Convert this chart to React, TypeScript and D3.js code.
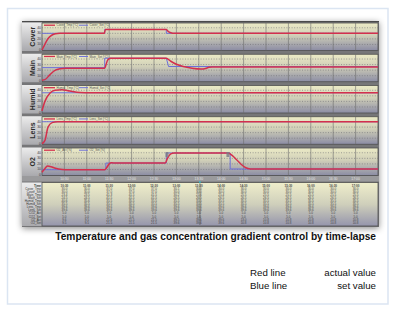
import React from 'react';
import * as d3 from 'd3';

type Pt = [number, number];

// ---------- data ----------
const panelNames = ['Cover', 'Main', 'Humid', 'Lens', 'O2'];
const legendActual = ['Cover_Tmp [°C]', 'Main_Tmp [°C]', 'Humid_Tmp [°C]', 'Lens_Tmp [°C]', 'O2_Act [%]'];
const legendSet = ['Cover_Set [°C]', 'Main_Set [°C]', 'Humid_Set [°C]', 'Lens_Set [°C]', 'O2_Set [%]'];
const yTicks = [0, 10, 20, 30, 40];
const timeLabels = ['10:30', '11:00', '11:30', '12:00', '12:30', '13:00', '13:30', '14:00', '14:30', '15:00', '15:30', '16:00', '16:30', '17:00'];

const coverActual: Pt[] = [[0, 0], [0.1, 8], [0.2, 16], [0.3, 22], [0.45, 27], [0.6, 29.3], [0.8, 30], [2.78, 30], [2.83, 37], [5.55, 37], [5.62, 34], [5.75, 31], [5.9, 30], [15, 30]];
const coverSet: Pt[] = [[0, 30], [2.8, 30], [2.8, 37], [5.55, 37], [5.55, 30], [15, 30]];
const mainActual: Pt[] = [[0, 2], [0.13, 3], [0.36, 12], [0.58, 19.5], [0.8, 22.5], [1.05, 23.5], [2.8, 23.5], [2.86, 30], [2.93, 38], [3.05, 41.5], [5.55, 41.5], [5.75, 36], [6.0, 30.5], [6.3, 26.5], [6.7, 23.5], [7.1, 22], [7.3, 23], [7.45, 25], [7.6, 25.5], [15, 25.5]];
const mainSet: Pt[] = [[0, 24.5], [2.8, 24.5], [2.8, 41.5], [5.55, 41.5], [5.65, 26.5], [15, 26.5]];
const humidActual: Pt[] = [[0, 3], [0.13, 20], [0.36, 35], [0.58, 40], [0.89, 41], [1.25, 38.5], [1.7, 36], [2.2, 35.5], [15, 35.5]];
const humidSet: Pt[] = [[0, 35.5], [15, 35.5]];
const lensActual: Pt[] = [[0, 0], [0.13, 6], [0.27, 30], [0.45, 38], [0.7, 39.6], [15, 39.6]];
const lensSet: Pt[] = [[0, 39.6], [15, 39.6]];
const o2Actual: Pt[] = [[0, 5], [0.1, 10], [0.25, 16], [0.4, 15], [0.6, 12], [0.9, 10], [1.2, 9.5], [2.8, 9.5], [2.9, 14], [3.0, 20], [3.1, 22], [3.3, 21.5], [5.5, 21.5], [5.6, 30], [5.75, 38], [5.9, 39.6], [8.3, 39.6], [8.5, 35], [8.7, 27], [8.9, 19], [9.1, 13], [9.3, 11], [9.5, 10.8], [15, 10.8]];
const o2Set: Pt[] = [[0, 9.5], [2.85, 9.5], [2.85, 21.5], [5.55, 21.5], [5.55, 39.6], [8.4, 39.6], [8.4, 10.8], [15, 10.8]];
const o2Markers = [5.58, 8.3];
const cursorTime = 7.05;

const actualSeries = [coverActual, mainActual, humidActual, lensActual, o2Actual];
const setSeries = [coverSet, mainSet, humidSet, lensSet, o2Set];

const tableRowLabels = ['Time', 'Cover_Tmp', 'Cover_Set', 'Main_Tmp', 'Main_Set', 'Humid_Tmp', 'Humid_Set', 'Lens_Tmp', 'Lens_Set', 'CO2_Act', 'CO2_Set', 'O2_Act', 'O2_Set'];
const coverTmpRow = ['30.0', '30.0', '37.0', '37.0', '37.0', '30.1', '30.0', '30.0', '30.0', '30.0', '30.0', '30.0', '30.0', '30.0'];
const coverSetRow = ['30.0', '30.0', '37.0', '37.0', '37.0', '30.0', '30.0', '30.0', '30.0', '30.0', '30.0', '30.0', '30.0', '30.0'];
const mainTmpRow = ['23.4', '23.5', '41.3', '41.5', '41.5', '30.2', '21.6', '25.4', '25.5', '25.5', '25.5', '25.5', '25.5', '25.5'];
const mainSetRow = ['24.5', '24.5', '41.5', '41.5', '41.5', '26.5', '26.5', '26.5', '26.5', '26.5', '26.5', '26.5', '26.5', '26.5'];
const humidTmpRow = ['40.6', '35.6', '35.5', '35.5', '35.5', '35.5', '35.5', '35.5', '35.5', '35.5', '35.5', '35.5', '35.5', '35.5'];
const humidSetRow = ['35.5', '35.5', '35.5', '35.5', '35.5', '35.5', '35.5', '35.5', '35.5', '35.5', '35.5', '35.5', '35.5', '35.5'];
const lensTmpRow = ['39.6', '39.6', '39.6', '39.6', '39.6', '39.6', '39.6', '39.6', '39.6', '39.6', '39.6', '39.6', '39.6', '39.6'];
const lensSetRow = ['39.6', '39.6', '39.6', '39.6', '39.6', '39.6', '39.6', '39.6', '39.6', '39.6', '39.6', '39.6', '39.6', '39.6'];
const co2ActRow = ['5.0', '5.0', '5.0', '5.0', '5.0', '5.0', '5.0', '5.0', '5.0', '5.0', '5.0', '5.0', '5.0', '5.0'];
const co2SetRow = ['5.0', '5.0', '5.0', '5.0', '5.0', '5.0', '5.0', '5.0', '5.0', '5.0', '5.0', '5.0', '5.0', '5.0'];
const o2ActRow = ['9.6', '9.5', '21.6', '21.5', '21.5', '39.5', '39.6', '39.6', '13.0', '10.8', '10.8', '10.8', '10.8', '10.8'];
const o2SetRow = ['9.5', '9.5', '21.5', '21.5', '21.5', '39.6', '39.6', '39.6', '10.8', '10.8', '10.8', '10.8', '10.8', '10.8'];
const tableRows = [timeLabels, coverTmpRow, coverSetRow, mainTmpRow, mainSetRow, humidTmpRow, humidSetRow, lensTmpRow, lensSetRow, co2ActRow, co2SetRow, o2ActRow, o2SetRow];

const caption = 'Temperature and gas concentration gradient control by time-lapse';
const legendNotes = [['Red line', 'actual value'], ['Blue line', 'set value']];

// ---------- layout ----------
const W = 401, H = 329;
const frameL = 22, frameR = 379, frameT = 21, frameB = 227;
const plotL = 42, plotR = 378;
const panelStep = 31.25, panelH = 27.5, firstTop = 23;
const RED = '#d4304c', BLUE = '#6c6fd8';

const x = d3.scaleLinear().domain([0, 15]).range([plotL, plotR]);
const gridTimes = d3.range(1, 15);

export default function App() {
  const font = 'Liberation Sans, Arial, sans-serif';
  const tableTop = 182.5;
  return (
    <svg width={W} height={H} style={{ position: 'absolute', left: 0, top: 0, display: 'block' }} fontFamily={font}>
      <defs>
        <linearGradient id="plotG" x1="0" y1="0" x2="0" y2="1">
          <stop offset="0" stopColor="#ecebc6" />
          <stop offset="0.45" stopColor="#d0cfb8" />
          <stop offset="1" stopColor="#8b8ca4" />
        </linearGradient>
        <linearGradient id="tableG" x1="0" y1="0" x2="0" y2="1">
          <stop offset="0" stopColor="#efeecb" />
          <stop offset="0.5" stopColor="#cfcfbb" />
          <stop offset="1" stopColor="#9595ac" />
        </linearGradient>
        <linearGradient id="labelG" x1="0" y1="0" x2="0" y2="1">
          <stop offset="0" stopColor="#ececec" />
          <stop offset="1" stopColor="#a9a9ad" />
        </linearGradient>
        <filter id="shadow" x="-10%" y="-10%" width="120%" height="120%">
          <feDropShadow dx="0" dy="1.5" stdDeviation="3" floodColor="#000" floodOpacity="0.45" />
        </filter>
      </defs>
      {/* card */}
      <rect x={7.5} y={8.5} width={380.5} height={295.5} fill="#fff" stroke="#dbe5f2" strokeWidth={1.5} />
      {/* frame */}
      <rect x={frameL} y={frameT} width={frameR - frameL} height={frameB - frameT} fill="#767678" filter="url(#shadow)" />
      <line x1={frameL} x2={frameR} y1={frameT + 0.5} y2={frameT + 0.5} stroke="#4a4a4a" strokeWidth={1.2} />
      {panelNames.map((name, i) => {
        const T = firstTop + i * panelStep;
        const y = d3.scaleLinear().domain([0, 45]).range([T + 27, T + 2]);
        const line = d3.line<Pt>().x(d => x(d[0])).y(d => y(d[1]));
        const smooth = d3.line<Pt>().x(d => x(d[0])).y(d => y(d[1])).curve(d3.curveMonotoneX);
        return (
          <g key={name}>
            <rect x={frameL} y={T - 0.5} width={plotL - frameL} height={panelH + 1} fill="url(#labelG)" />
            <text transform={`translate(${frameL + 10.5},${T + panelH / 2}) rotate(-90)`} textAnchor="middle" dominantBaseline="central" fontSize={7} fontWeight="bold" fill="#2b2b2b">{name}</text>
            <rect x={plotL} y={T} width={plotR - plotL} height={panelH} fill="url(#plotG)" stroke="#505050" strokeWidth={0.8} />
            {yTicks.slice(1).map(t => (
              <line key={t} x1={plotL} x2={plotR} y1={y(t)} y2={y(t)} stroke="#6c6c74" strokeWidth={0.6} strokeDasharray="1,1.6" />
            ))}
            {yTicks.map(t => (
              <text key={t} x={plotL - 1} y={y(t)} textAnchor="end" dominantBaseline="central" fontSize={3.4} fill="#3a3a3a">{t}</text>
            ))}
            {gridTimes.map(t => (
              <line key={t} x1={x(t)} x2={x(t)} y1={T} y2={T + panelH} stroke="#6b6b6b" strokeWidth={0.6} />
            ))}
            {/* legend */}
            <line x1={44} x2={55} y1={T + 2.2} y2={T + 2.2} stroke={RED} strokeWidth={1.3} />
            <text x={56.5} y={T + 2.4} dominantBaseline="central" fontSize={3} fill="#555">{legendActual[i]}</text>
            <line x1={79} x2={88} y1={T + 2.2} y2={T + 2.2} stroke={BLUE} strokeWidth={1} />
            <text x={89.5} y={T + 2.4} dominantBaseline="central" fontSize={3} fill="#555">{legendSet[i]}</text>
            <path d={line(setSeries[i]) || ''} fill="none" stroke={BLUE} strokeWidth={1} />
            <path d={smooth(actualSeries[i]) || ''} fill="none" stroke={RED} strokeWidth={1.5} />
            {name === 'O2' && o2Markers.map(t => (
              <rect key={t} x={x(t) - 1.5} y={y(39.6) - 1} width={3} height={5} fill="#7b7b85" opacity={0.8} />
            ))}
          </g>
        );
      })}
      {/* time axis row */}
      <rect x={frameL} y={176} width={frameR - frameL} height={5.5} fill="#9a9a9c" />
      {timeLabels.map((lab, k) => (
        <text key={lab} x={x(gridTimes[k])} y={179} textAnchor="middle" dominantBaseline="central" fontSize={3.4} fill="#e6e6e6">{lab}</text>
      ))}
      {/* table */}
      <rect x={frameL} y={tableTop} width={plotL - frameL} height={frameB - 1 - tableTop} fill="url(#labelG)" />
      <rect x={plotL} y={tableTop} width={plotR - plotL} height={frameB - 1 - tableTop} fill="url(#tableG)" stroke="#505050" strokeWidth={0.8} />
      {tableRowLabels.map((lab, r) => (
        <text key={lab} x={plotL - 1} y={tableTop + 3.5 + r * 3.05} textAnchor="end" dominantBaseline="central" fontSize={3} fill="#333" fontWeight={r === 0 ? 'bold' : 'normal'}>{lab}</text>
      ))}
      {tableRows.map((row, r) =>
        row.map((v, k) => (
          <text key={`${r}-${k}`} x={x(gridTimes[k])} y={tableTop + 3.5 + r * 3.05} textAnchor="middle" dominantBaseline="central" fontSize={3} fill="#444" fontWeight={r === 0 ? 'bold' : 'normal'}>{v}</text>
        ))
      )}
      <line x1={x(cursorTime)} x2={x(cursorTime)} y1={tableTop + 1} y2={frameB - 2} stroke="#111" strokeWidth={0.7} strokeDasharray="1,1" />
      <rect x={x(cursorTime) - 0.6} y={tableTop - 1.5} width={1.2} height={2} fill="#2ec8d8" />
      {/* caption */}
      <text x={376} y={240} textAnchor="end" fontSize={10.2} fontWeight="bold" fill="#111">{caption}</text>
      {legendNotes.map((n, i) => (
        <g key={n[0]}>
          <text x={250} y={276 + i * 12.5} fontSize={9.7} fill="#111">{n[0]}</text>
          <text x={376} y={276 + i * 12.5} textAnchor="end" fontSize={9.7} fill="#111">{n[1]}</text>
        </g>
      ))}
    </svg>
  );
}
